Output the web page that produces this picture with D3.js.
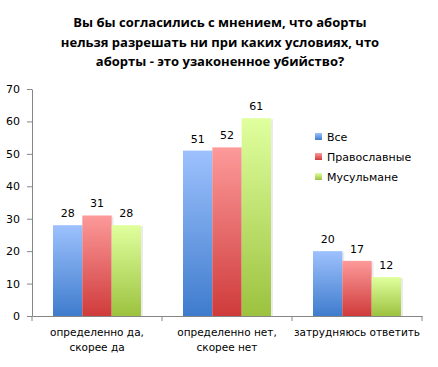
<!DOCTYPE html>
<html>
<head>
<meta charset="utf-8">
<script src="https://cdn.jsdelivr.net/npm/d3@7"></script>
<style>
  body { margin: 0; background: #fff; }
  text { font-family: "DejaVu Sans", Verdana, sans-serif; }
</style>
</head>
<body>
<div id="chart"></div>
<script>
// Data
const categories = ['определенно да, скорее да', 'определенно нет, скорее нет', 'затрудняюсь ответить'];
const categoryLines = [['определенно да,', 'скорее да'], ['определенно нет,', 'скорее нет'], ['затрудняюсь ответить']];
const seriesNames = ['Все', 'Православные', 'Мусульмане'];
const allValues = [28, 51, 20];
const orthodoxValues = [31, 52, 17];
const muslimValues = [28, 61, 12];
const yTicks = [0, 10, 20, 30, 40, 50, 60, 70];
const titleLines = ['Вы бы согласились с мнением, что аборты',
  'нельзя разрешать ни при каких условиях, что',
  'аборты - это узаконенное убийство?'];

const series = [allValues, orthodoxValues, muslimValues];
const colors = [
  {top: '#9dc1fd', bottom: '#3f7ccd', legend: '#4f81bd'},
  {top: '#fd9a9a', bottom: '#cf3b3b', legend: '#e06666'},
  {top: '#e0ff9e', bottom: '#9cc23f', legend: '#9bbb59'}
];

const W = 438, H = 367;
const margin = {top: 89, right: 16, bottom: 51, left: 32};
const width = 422 - margin.left;
const height = 316 - margin.top;

const svg = d3.select('#chart').append('svg')
  .attr('width', W).attr('height', H);

const defs = svg.append('defs');
colors.forEach((c, i) => {
  const g = defs.append('linearGradient')
    .attr('id', 'grad' + i)
    .attr('x1', 0).attr('y1', 0).attr('x2', 0).attr('y2', 1);
  g.append('stop').attr('offset', '0%').attr('stop-color', c.top);
  g.append('stop').attr('offset', '100%').attr('stop-color', c.bottom);
});

// Title
svg.append('text')
  .attr('x', 220).attr('y', 27)
  .attr('text-anchor', 'middle')
  .style('font-family', '"Open Sans", sans-serif')
  .style('font-weight', 'bold')
  .style('font-size', '13px')
  .selectAll('tspan')
  .data(titleLines)
  .enter().append('tspan')
  .attr('x', 220)
  .attr('dy', (d, i) => i === 0 ? 0 : 19.5)
  .text(d => d);

const g = svg.append('g')
  .attr('transform', `translate(${margin.left},${margin.top})`);

const x0 = d3.scaleBand().domain(categories).range([0, width]).paddingInner(0).paddingOuter(0);
const x1 = d3.scaleBand().domain(d3.range(series.length)).range([21, x0.bandwidth() - 21]);
const y = d3.scaleLinear().domain([0, 70]).range([height, 0]);

// Y axis
const yAxis = g.append('g')
  .call(d3.axisLeft(y).tickValues(yTicks).tickSize(5).tickSizeOuter(0));
yAxis.select('.domain').attr('stroke', '#868686');
yAxis.selectAll('.tick line').attr('stroke', '#868686');
yAxis.selectAll('.tick text').attr('x', -12).style('font-size', '11px').attr('fill', '#000');

// Bars
const groups = g.selectAll('.cat')
  .data(categories)
  .enter().append('g')
  .attr('transform', d => `translate(${x0(d)},0)`);

groups.each(function(cat, ci) {
  const grp = d3.select(this);
  series.forEach((vals, si) => {
    // soft shadow
    grp.append('rect')
      .attr('x', x1(si) + 2)
      .attr('y', y(vals[ci]) + 1)
      .attr('width', x1.bandwidth())
      .attr('height', height - y(vals[ci]) - 1)
      .attr('fill', '#000').attr('opacity', 0.08);
  });
  series.forEach((vals, si) => {
    grp.append('rect')
      .attr('x', x1(si))
      .attr('y', y(vals[ci]))
      .attr('width', x1.bandwidth())
      .attr('height', height - y(vals[ci]))
      .attr('fill', `url(#grad${si})`);
    grp.append('text')
      .attr('x', x1(si) + x1.bandwidth() / 2)
      .attr('y', y(vals[ci]) - 8)
      .attr('text-anchor', 'middle')
      .style('font-size', '11px')
      .text(vals[ci]);
  });
});

// X axis
const xAxis = g.append('g')
  .attr('transform', `translate(0,${height})`)
  .call(d3.axisBottom(x0).tickSize(0).tickSizeOuter(0).tickFormat(''));
xAxis.select('.domain').attr('stroke', '#868686');
[0, 1, 2, 3].forEach(i => {
  g.append('line')
    .attr('x1', i * x0.bandwidth()).attr('x2', i * x0.bandwidth())
    .attr('y1', height).attr('y2', height + 5)
    .attr('stroke', '#868686');
});
categories.forEach((c, i) => {
  const t = g.append('text')
    .attr('text-anchor', 'middle')
    .style('font-size', '10.5px')
    .attr('y', height + 20);
  categoryLines[i].forEach((line, li) => {
    t.append('tspan')
      .attr('x', x0(c) + x0.bandwidth() / 2)
      .attr('dy', li === 0 ? 0 : 15)
      .text(line);
  });
});

// Legend
const legend = svg.append('g').attr('transform', 'translate(315,133)');
seriesNames.forEach((name, i) => {
  const row = legend.append('g').attr('transform', `translate(0,${i * 20})`);
  row.append('rect').attr('width', 7).attr('height', 7)
    .attr('fill', `url(#grad${i})`);
  row.append('text').attr('x', 12).attr('y', 8)
    .style('font-size', '11px')
    .text(name);
});
</script>
</body>
</html>
